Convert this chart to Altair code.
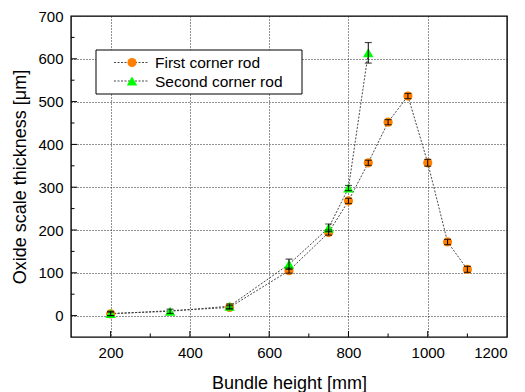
import altair as alt
import pandas as pd

# ---- data ----
x_first = [200, 500, 650, 750, 800, 850, 900, 950, 1000, 1050, 1100]
y_first = [4, 19, 105, 194, 268, 357, 452, 513, 357, 172, 108]
e_first = [4, 4, 6, 6, 6, 6, 6, 6, 8, 6, 7]

x_second = [200, 350, 500, 650, 750, 800, 850]
y_second = [5, 10, 22, 120, 205, 298, 614]
e_second = [5, 5, 5, 12, 9, 6, 24]

series_names = ["First corner rod", "Second corner rod"]
series_colors = ["#FF8000", "#00FF00"]

x_major = [200, 400, 600, 800, 1000]
x_minor = [300, 500, 700, 900, 1100]
y_major = [0, 100, 200, 300, 400, 500, 600]
y_minor = [50, 150, 250, 350, 450, 550, 650]

FONT = "Liberation Sans"
W, H = 436, 321

df1 = pd.DataFrame({"x": x_first, "y": y_first, "lo": [a - b for a, b in zip(y_first, e_first)],
                    "hi": [a + b for a, b in zip(y_first, e_first)]})
df2 = pd.DataFrame({"x": x_second, "y": y_second, "lo": [a - b for a, b in zip(y_second, e_second)],
                    "hi": [a + b for a, b in zip(y_second, e_second)]})

xs = alt.Scale(domain=[100, 1200], nice=False, zero=False)
ys = alt.Scale(domain=[-50, 700], nice=False, zero=False)

X = alt.X("x:Q", scale=xs, title="Bundle height [mm]",
          axis=alt.Axis(values=[200, 400, 600, 800, 1000, 1200], format="d", titleY=51,
                        titleBaseline="alphabetic", titleFontWeight="normal",
                        labelFontWeight="normal"))
Y = alt.Y("y:Q", scale=ys, title="Oxide scale thickness [μm]",
          axis=alt.Axis(values=[0, 100, 200, 300, 400, 500, 600, 700], format="d", titleX=-46,
                        titleBaseline="alphabetic", titleFontWeight="normal",
                        labelFontWeight="normal"))


def line(df):
    return alt.Chart(df).mark_line(color="#333333", strokeWidth=0.9, strokeDash=[2, 1.5]).encode(
        x=X, y=Y)


def errs(df):
    r = alt.Chart(df).mark_rule(color="black", strokeWidth=1).encode(
        x=alt.X("x:Q", scale=xs), y=alt.Y("lo:Q", scale=ys), y2="hi:Q")
    t1 = alt.Chart(df).mark_tick(color="black", orient="horizontal", size=7, thickness=1.2).encode(
        x=alt.X("x:Q", scale=xs), y=alt.Y("lo:Q", scale=ys))
    t2 = alt.Chart(df).mark_tick(color="black", orient="horizontal", size=7, thickness=1.2).encode(
        x=alt.X("x:Q", scale=xs), y=alt.Y("hi:Q", scale=ys))
    return r + t1 + t2


p1 = alt.Chart(df1).mark_point(shape="circle", filled=True, size=85, opacity=1,
                                color=series_colors[0]).encode(x=X, y=Y)
p2 = alt.Chart(df2).mark_point(shape="triangle-up", filled=True, size=110, opacity=1,
                                color=series_colors[1]).encode(x=X, y=Y)

# inward axis ticks
ymaj = alt.Chart(pd.DataFrame({"v": y_major})).mark_rule(color="black", strokeWidth=1).encode(
    y=alt.Y("v:Q", scale=ys), x=alt.value(0), x2=alt.value(6))
ymin = alt.Chart(pd.DataFrame({"v": y_minor})).mark_rule(color="black", strokeWidth=1).encode(
    y=alt.Y("v:Q", scale=ys), x=alt.value(0), x2=alt.value(3.5))
xmaj = alt.Chart(pd.DataFrame({"v": x_major})).mark_rule(color="black", strokeWidth=1).encode(
    x=alt.X("v:Q", scale=xs), y=alt.value(H), y2=alt.value(H - 6))
xmin = alt.Chart(pd.DataFrame({"v": x_minor})).mark_rule(color="black", strokeWidth=1).encode(
    x=alt.X("v:Q", scale=xs), y=alt.value(H), y2=alt.value(H - 3.5))

# legend
box = alt.Chart(pd.DataFrame({"a": [0]})).mark_rect(fill="white", stroke="black", strokeWidth=1).encode(
    x=alt.value(25), x2=alt.value(231), y=alt.value(34), y2=alt.value(78))
rows_y = [46.5, 65]
leg_layers = []
for i, name in enumerate(series_names):
    d = pd.DataFrame({"name": [name]})
    leg_layers.append(alt.Chart(d).mark_rule(color="#333333", strokeWidth=0.9, strokeDash=[2, 1.5]).encode(
        x=alt.value(43), x2=alt.value(78), y=alt.value(rows_y[i])))
    leg_layers.append(alt.Chart(d).mark_point(
        shape=["circle", "triangle-up"][i], filled=True, opacity=1,
        size=[85, 110][i], color=series_colors[i]).encode(x=alt.value(61), y=alt.value(rows_y[i])))
    leg_layers.append(alt.Chart(d).mark_text(align="left", baseline="middle", font=FONT, fontSize=15.5,
                                             fontWeight="normal", color="black").encode(
        x=alt.value(84), y=alt.value(rows_y[i] + 0.5), text="name:N"))

chart = alt.layer(
    line(df1), line(df2), p1, p2, errs(df1), errs(df2),
    ymaj, ymin, xmaj, xmin, box, *leg_layers
).properties(
    width=W, height=H,
    autosize=alt.AutoSizeParams(type="none"),
    padding={"left": 63, "top": 8, "right": 10, "bottom": 60},
).configure_view(
    stroke="black", strokeWidth=1.4
).configure_axis(
    domain=False, ticks=False, grid=True, gridColor="#222222", gridDash=[1, 2], gridWidth=1,
    labelFont=FONT, labelFontSize=15, labelColor="black", labelPadding=8,
    titleFont=FONT, titleFontSize=18, titleFontWeight="normal", titleColor="black",
)

chart.save("out.html", embed_options={"renderer": "svg", "actions": False})
